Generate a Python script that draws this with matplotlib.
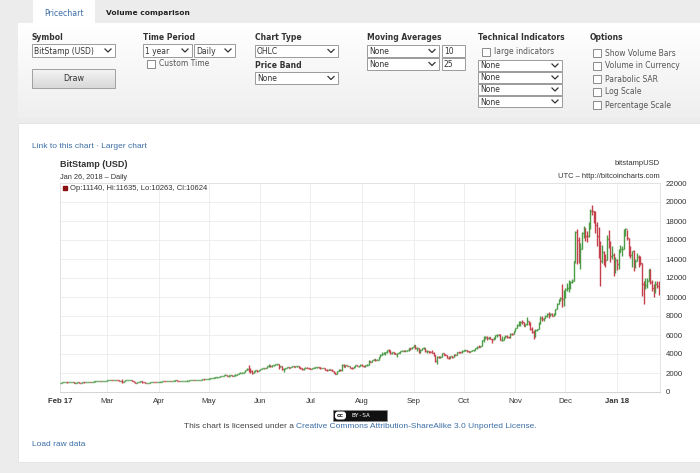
import datetime as dt

import matplotlib.dates as mdates
import matplotlib.pyplot as plt
import numpy as np
from matplotlib.patches import Rectangle, FancyBboxPatch

### Data: BitStamp (USD), daily, Feb 1 2017 - Jan 26 2018 ###
first_open = 965  # close of Jan 31 2017; each later open is the previous close

close = [
    # Feb
    988, 1004, 1016, 1031, 1013, 1024, 1045, 1051, 978, 995, 1005, 996, 993, 1007,
    1006, 1030, 1048, 1054, 1052, 1081, 1116, 1118, 1172, 1176, 1147, 1167, 1183, 1190,
    # Mar
    1222, 1255, 1283, 1265, 1272, 1275, 1229, 1150, 1190, 1105, 1185, 1225, 1240, 1245, 1255,
    1172, 1072, 970, 1020, 1044, 1117, 1040, 1035, 935, 965, 970, 1045, 1045, 1040, 1035, 1080,
    # Apr
    1090, 1100, 1145, 1140, 1130, 1190, 1190, 1180, 1200, 1205, 1215, 1205, 1170, 1180, 1180,
    1185, 1200, 1210, 1220, 1250, 1255, 1245, 1250, 1250, 1265, 1285, 1340, 1330, 1345, 1350,
    # May
    1420, 1450, 1500, 1510, 1530, 1550, 1555, 1650, 1700, 1760, 1820, 1690, 1760, 1780, 1710,
    1740, 1800, 1880, 1960, 2040, 2040, 2120, 2280, 2450, 2310, 2200, 2050, 2180, 2270, 2200, 2300,
    # Jun
    2410, 2480, 2530, 2520, 2690, 2870, 2700, 2800, 2810, 2900, 2990, 2650, 2700, 2450, 2450,
    2500, 2640, 2520, 2600, 2740, 2650, 2700, 2710, 2590, 2560, 2460, 2560, 2570, 2530, 2480,
    # Jul
    2430, 2500, 2560, 2600, 2610, 2600, 2500, 2550, 2500, 2330, 2320, 2380, 2340, 2200, 1950,
    1920, 2230, 2300, 2270, 2850, 2660, 2830, 2750, 2760, 2560, 2540, 2680, 2790, 2710, 2750, 2870,
    # Aug
    2720, 2700, 2800, 2860, 3250, 3210, 3380, 3430, 3340, 3420, 3650, 3850, 4050, 4120, 4190,
    4370, 4290, 4120, 4160, 4060, 4000, 4090, 4140, 4320, 4360, 4340, 4350, 4390, 4590, 4580, 4740,
    # Sep
    4930, 4580, 4600, 4230, 4400, 4600, 4620, 4320, 4320, 4240, 4220, 4150, 3880, 3240, 3700,
    3690, 3690, 4080, 3910, 3880, 3620, 3610, 3780, 3660, 3930, 3890, 4210, 4190, 4160, 4340,
    # Oct
    4390, 4400, 4320, 4220, 4330, 4370, 4440, 4610, 4780, 4760, 4830, 5440, 5640, 5830, 5690,
    5750, 5600, 5570, 5690, 6000, 6000, 5980, 5520, 5520, 5740, 5890, 5770, 5750, 6140, 6120, 6450,
    # Nov
    6740, 7030, 7160, 7390, 7380, 6960, 7110, 7450, 7140, 6580, 6340, 5880, 6550, 6590, 7280,
    7840, 7690, 7790, 8040, 8200, 8090, 8250, 8030, 8200, 8750, 9310, 9730, 9910, 9840, 9950,
    # Dec
    10850, 10910, 11240, 11600, 11670, 13770, 16850, 16050, 14840, 15060, 16730, 17280, 16460,
    16450, 17600, 19100, 19000, 18950, 17600, 16460, 15630, 13830, 14700, 14000, 13940, 16100,
    15690, 14280, 14400, 12700, 13880,
    # Jan
    13440, 14750, 15000, 15070, 16950, 17170, 16200, 14980, 14400, 14850, 13300, 13800, 14200,
    13600, 13580, 11400, 11200, 11250, 11650, 12900, 11600, 10900, 10850, 11400, 11140, 10624,
]

high = [
    990, 1010, 1024, 1035, 1034, 1028, 1055, 1070, 1075, 1002, 1010, 1008, 1000, 1010,
    1012, 1035, 1056, 1065, 1058, 1085, 1125, 1125, 1178, 1210, 1185, 1175, 1192, 1200,
    1225, 1262, 1290, 1290, 1275, 1285, 1280, 1240, 1205, 1330, 1195, 1235, 1245, 1250, 1260,
    1262, 1180, 1100, 1060, 1055, 1120, 1122, 1060, 1045, 1000, 1000, 1055, 1070, 1060, 1055, 1095,
    1100, 1108, 1150, 1160, 1145, 1195, 1200, 1195, 1210, 1215, 1225, 1215, 1210, 1190, 1190,
    1190, 1205, 1215, 1225, 1260, 1260, 1265, 1260, 1255, 1270, 1310, 1345, 1345, 1350, 1355,
    1425, 1470, 1510, 1590, 1580, 1570, 1590, 1665, 1730, 1775, 1860, 1830, 1775, 1800, 1790,
    1760, 1850, 1890, 2000, 2060, 2070, 2140, 2300, 2500, 2790, 2560, 2300, 2200, 2300, 2310, 2330,
    2420, 2490, 2560, 2560, 2700, 2900, 2880, 2810, 2830, 2920, 3000, 3000, 2780, 2780, 2500,
    2520, 2680, 2660, 2620, 2770, 2780, 2720, 2740, 2730, 2640, 2570, 2570, 2620, 2580, 2550,
    2500, 2520, 2600, 2660, 2620, 2620, 2610, 2570, 2560, 2520, 2420, 2420, 2430, 2370, 2240,
    2060, 2250, 2380, 2420, 2900, 2900, 2880, 2850, 2780, 2780, 2630, 2700, 2820, 2800, 2770, 2900,
    2930, 2780, 2820, 2900, 3330, 3290, 3400, 3480, 3440, 3460, 3700, 3960, 4180, 4190, 4250,
    4400, 4480, 4370, 4200, 4180, 4060, 4150, 4250, 4350, 4450, 4380, 4400, 4400, 4640, 4620, 4760,
    4980, 4930, 4700, 4580, 4480, 4680, 4690, 4680, 4380, 4330, 4360, 4380, 4170, 3890, 3800,
    3780, 3740, 4120, 4100, 3980, 3890, 3740, 3800, 3800, 3970, 3980, 4230, 4250, 4200, 4370,
    4400, 4470, 4440, 4360, 4350, 4410, 4460, 4620, 4870, 4900, 4870, 5450, 5850, 5850, 5860,
    5780, 5770, 5600, 5740, 6020, 6150, 6070, 6060, 5880, 5780, 5980, 6000, 5830, 6180, 6230, 6470,
    6770, 7200, 7440, 7450, 7580, 7420, 7200, 7850, 7460, 7320, 6870, 6530, 6600, 6680, 7330,
    7970, 8000, 7820, 8060, 8280, 8380, 8280, 8280, 8300, 8770, 9420, 9750, 9950, 11400, 10700,
    10900, 11500, 11800, 11640, 11850, 13800, 16900, 17200, 16280, 15700, 16800, 17500, 17300,
    16900, 17900, 19250, 19660, 19100, 19000, 17900, 17400, 15900, 15500, 14800, 14500, 16500,
    17100, 15900, 15400, 14650, 14200,
    14000, 15100, 15500, 15400, 17150, 17230, 17100, 16200, 15400, 14850, 14900, 14000, 14600,
    14400, 14300, 13580, 11700, 12000, 12000, 13000, 13000, 11800, 11400, 11700, 11650, 11635,
]

low = [
    962, 982, 1001, 1008, 1000, 1010, 1020, 1040, 940, 970, 992, 988, 985, 990,
    998, 1003, 1028, 1040, 1040, 1048, 1076, 1100, 1112, 1120, 1110, 1140, 1155, 1170,
    1185, 1215, 1250, 1240, 1240, 1260, 1220, 1145, 1130, 1000, 1105, 1180, 1215, 1225, 1240,
    1160, 1055, 940, 960, 1010, 1040, 990, 1010, 920, 900, 940, 965, 1030, 1020, 1015, 1030,
    1075, 1085, 1095, 1120, 1110, 1125, 1170, 1165, 1175, 1195, 1200, 1195, 1155, 1165, 1170,
    1175, 1180, 1195, 1200, 1215, 1240, 1220, 1230, 1240, 1245, 1260, 1285, 1310, 1320, 1330,
    1345, 1395, 1440, 1490, 1470, 1520, 1530, 1555, 1640, 1700, 1750, 1650, 1600, 1730, 1690,
    1690, 1720, 1780, 1880, 1960, 1990, 2020, 2110, 2280, 2100, 1950, 1850, 2000, 2150, 2150, 2180,
    2280, 2370, 2450, 2480, 2520, 2680, 2650, 2600, 2760, 2800, 2880, 2400, 2610, 2320, 2150,
    2400, 2480, 2480, 2480, 2590, 2600, 2580, 2650, 2530, 2380, 2300, 2350, 2510, 2510, 2450,
    2400, 2410, 2490, 2560, 2550, 2570, 2470, 2480, 2490, 2310, 2250, 2320, 2320, 2180, 1960,
    1850, 1910, 2220, 2260, 2260, 2620, 2620, 2700, 2700, 2500, 2470, 2520, 2680, 2690, 2680, 2720,
    2690, 2660, 2680, 2780, 2850, 3150, 3200, 3350, 3250, 3340, 3420, 3650, 3850, 3980, 3900,
    4150, 4250, 3970, 4050, 4030, 3980, 3700, 4060, 4120, 4300, 4310, 4300, 4330, 4360, 4470, 4570,
    4730, 4500, 4350, 4100, 4120, 4400, 4520, 4200, 4150, 4080, 4160, 4100, 3780, 3200, 2970,
    3600, 3550, 3690, 3860, 3860, 3580, 3480, 3600, 3620, 3650, 3870, 3880, 4140, 4060, 4150,
    4270, 4340, 4250, 4160, 4180, 4290, 4320, 4430, 4560, 4700, 4740, 4820, 5300, 5560, 5480,
    5580, 5540, 5110, 5510, 5620, 5800, 5960, 5450, 5420, 5480, 5670, 5700, 5680, 5700, 6020, 6080,
    6370, 6720, 6960, 6950, 7200, 6950, 6980, 7060, 7060, 6480, 6180, 5600, 5840, 6450, 6580,
    7170, 7520, 7450, 7740, 7900, 7840, 8040, 7980, 7980, 8150, 8700, 9310, 9600, 9000, 9050,
    9940, 10600, 10550, 10850, 11430, 11700, 13600, 13500, 13600, 13000, 15100, 16200, 15900,
    15800, 16300, 17200, 18600, 17800, 16700, 15400, 14100, 11150, 13600, 13400, 13200, 13900,
    15200, 13700, 14000, 12200, 12500,
    12800, 12950, 14700, 14300, 15000, 16400, 16000, 14300, 14100, 13200, 12700, 13100, 13800,
    13200, 13400, 10100, 9300, 10800, 10900, 11650, 11350, 10600, 9980, 10450, 10900, 10263,
]

month_labels = ['Feb 17', 'Mar', 'Apr', 'May', 'Jun', 'Jul', 'Aug', 'Sep', 'Oct',
                'Nov', 'Dec', 'Jan 18']
y_ticks = list(range(0, 22001, 2000))

### Colours / fonts ###
BG = '#ececec'
TXT = '#333333'
LINK = '#3c6ea6'
UP = '#4c9c48'
DOWN = '#c4414c'
FORM_FONT = 'DejaVu Sans'
CHART_FONT = 'Liberation Sans'

### Page ###
fig = plt.figure(figsize=(7, 4.73), dpi=100)
fig.patch.set_facecolor(BG)
page = fig.add_axes([0, 0, 1, 1])
page.set_xlim(0, 700)
page.set_ylim(473, 0)
page.axis('off')

# form panel with a soft vertical gradient
grad = np.linspace(0, 1, 50).reshape(-1, 1)
form_cmap = plt.matplotlib.colors.LinearSegmentedColormap.from_list('f', ['#ffffff', '#efefef'])
page.imshow(grad, cmap=form_cmap, extent=[18, 700, 118, 24], aspect='auto', zorder=0)
page.add_patch(Rectangle((33, 0), 62, 25, facecolor='white', edgecolor='none', zorder=1))
page.text(64, 13, 'Pricechart', color=LINK, fontsize=5.7, family=FORM_FONT, ha='center', va='center')
page.text(106, 13, 'Volume comparison', color='#222222', fontsize=5.4, family=FORM_FONT,
          fontweight='bold', va='center')

# chart panel
page.add_patch(Rectangle((18, 123), 682, 339, facecolor='white', edgecolor='#e2e2e2', lw=0.6, zorder=1))


def label(x, y, s):
    page.text(x, y, s, fontsize=5.5, family=FORM_FONT, fontweight='bold', color=TXT, va='center')


def dropdown(x0, y0, x1, y1, s, arrow=True):
    page.add_patch(Rectangle((x0, y0), x1 - x0, y1 - y0, facecolor='white',
                             edgecolor='#9a9a9a', lw=0.7, zorder=2))
    page.text(x0 + 2, (y0 + y1) / 2 + 0.5, s, fontsize=5.5, family=FORM_FONT, color=TXT,
              va='center', zorder=3)
    if arrow:
        cx, cy = x1 - 7, (y0 + y1) / 2
        page.plot([cx - 3, cx, cx + 3], [cy - 1.5, cy + 1.5, cy - 1.5], color='#333333', lw=0.9, zorder=3)


def checkbox(x, y, s):
    page.add_patch(Rectangle((x, y - 4), 8, 8, facecolor='white', edgecolor='#8a8a8a', lw=0.7, zorder=2))
    page.text(x + 12, y, s, fontsize=5.5, family=FORM_FONT, color='#555555', va='center')


label(32, 38, 'Symbol')
dropdown(32, 44, 115, 57, 'BitStamp (USD)')
page.imshow(np.linspace(0, 1, 20).reshape(-1, 1),
            cmap=plt.matplotlib.colors.LinearSegmentedColormap.from_list('b', ['#f4f4f4', '#d9d9d9']),
            extent=[32, 115, 88, 69], aspect='auto', zorder=2)
page.add_patch(Rectangle((32, 69), 83, 19, facecolor='none', edgecolor='#a0a0a0', lw=0.7, zorder=3))
page.text(73.5, 78.5, 'Draw', fontsize=5.8, family=FORM_FONT, color=TXT, ha='center', va='center', zorder=4)

label(143, 38, 'Time Period')
dropdown(143, 44, 192, 57, '1 year')
dropdown(194, 44, 235, 57, 'Daily')
checkbox(147, 64, 'Custom Time')

label(255, 38, 'Chart Type')
dropdown(255, 45, 338, 57, 'OHLC')
label(255, 65, 'Price Band')
dropdown(255, 72, 338, 84, 'None')

label(367, 38, 'Moving Averages')
dropdown(367, 45, 439, 57, 'None')
dropdown(367, 58, 439, 70, 'None')
dropdown(442, 45, 465, 57, '10', arrow=False)
dropdown(442, 58, 465, 70, '25', arrow=False)

label(478, 38, 'Technical Indicators')
checkbox(482, 52, 'large indicators')
for y0 in (60, 72, 84, 96):
    dropdown(478, y0, 562, y0 + 11, 'None')

label(590, 38, 'Options')
for i, s in enumerate(['Show Volume Bars', 'Volume in Currency', 'Parabolic SAR',
                       'Log Scale', 'Percentage Scale']):
    checkbox(593, 53 + 13 * i, s)

# chart header texts
page.text(32, 146, 'Link to this chart · Larger chart', color=LINK, fontsize=6.0,
          family=CHART_FONT, va='center')
page.text(60, 164, 'BitStamp (USD)', color=TXT, fontsize=6.5, family=CHART_FONT,
          fontweight='bold', va='center')
page.text(60, 177, 'Jan 26, 2018 – Daily', color=TXT, fontsize=5.3, family=CHART_FONT, va='center')
page.text(660, 163, 'bitstampUSD', color=TXT, fontsize=5.5, family=CHART_FONT, ha='right', va='center')
page.text(660, 176, 'UTC – http://bitcoincharts.com', color=TXT, fontsize=5.4, family=CHART_FONT,
          ha='right', va='center')

# licence badge and line
page.add_patch(Rectangle((333, 410), 54, 11, facecolor='#111111', edgecolor='#888888', lw=0.6, zorder=2))
page.add_patch(FancyBboxPatch((335, 411.5), 11, 8, boxstyle='round,pad=0,rounding_size=3',
                              facecolor='white', edgecolor='none', zorder=3))
page.text(340.5, 415.5, 'cc', fontsize=4.5, family=CHART_FONT, fontweight='bold', color='black',
          ha='center', va='center', zorder=4)
page.text(351, 415.5, 'BY-SA', fontsize=4.5, family='DejaVu Sans Mono', color='white', va='center', zorder=4)
page.text(294, 426, 'This chart is licensed under a', color='#444444', fontsize=6.0,
          family=CHART_FONT, ha='right', va='center')
page.text(296, 426, 'Creative Commons Attribution-ShareAlike 3.0 Unported License.', color=LINK,
          fontsize=6.0, family=CHART_FONT, va='center')
page.text(32, 444, 'Load raw data', color=LINK, fontsize=6.0, family=CHART_FONT, va='center')

### OHLC chart ###
dates = [dt.date(2017, 2, 1) + dt.timedelta(days=i) for i in range(len(close))]
x = mdates.date2num(dates)
c = np.array(close, dtype=float)
o = np.concatenate([[first_open], c[:-1]])
h = np.array(high, dtype=float)
l = np.array(low, dtype=float)
col = np.where(c >= o, UP, DOWN)

ax = fig.add_axes([60 / 700, 1 - 392 / 473, 600 / 700, 209 / 473])
ax.set_facecolor('white')
ax.vlines(x, l, h, colors=col, lw=1.0, zorder=3)
ax.hlines(o, x - 0.55, x, colors=col, lw=1.0, zorder=3)
ax.hlines(c, x, x + 0.55, colors=col, lw=1.0, zorder=3)

ax.set_xlim(mdates.date2num(dt.date(2017, 2, 1)) - 0.3, mdates.date2num(dt.date(2018, 1, 26)) + 0.8)
ax.set_ylim(0, 22000)

month_starts = [dt.date(2017 + (m // 12), m % 12 + 1, 1) for m in range(1, 13)]
ax.set_xticks(mdates.date2num(month_starts))
ax.set_xticklabels(month_labels)
ax.set_yticks(y_ticks)
ax.set_yticklabels([str(v) for v in y_ticks])
ax.yaxis.tick_right()
ax.tick_params(length=0, labelsize=5.6, labelcolor=TXT, pad=4)
for t in ax.get_xticklabels() + ax.get_yticklabels():
    t.set_family(CHART_FONT)
for t in (ax.get_xticklabels()[0], ax.get_xticklabels()[-1]):
    t.set_fontweight('bold')
ax.grid(True, color='#ebebeb', lw=0.6, zorder=0)
for side in ('top', 'right', 'left'):
    ax.spines[side].set_color('#e0e0e0')
    ax.spines[side].set_linewidth(0.6)
ax.spines['bottom'].set_color('#cccccc')
ax.spines['bottom'].set_linewidth(0.6)

# last-bar legend
ax.plot([0.008], [0.975], 's', ms=3.5, color='#8b1010', transform=ax.transAxes)
ax.text(0.017, 0.975, 'Op:11140, Hi:11635, Lo:10263, Cl:10624', transform=ax.transAxes,
        fontsize=5.5, family=CHART_FONT, color=TXT, va='center')

plt.savefig('out.png', dpi=100, facecolor=BG)
